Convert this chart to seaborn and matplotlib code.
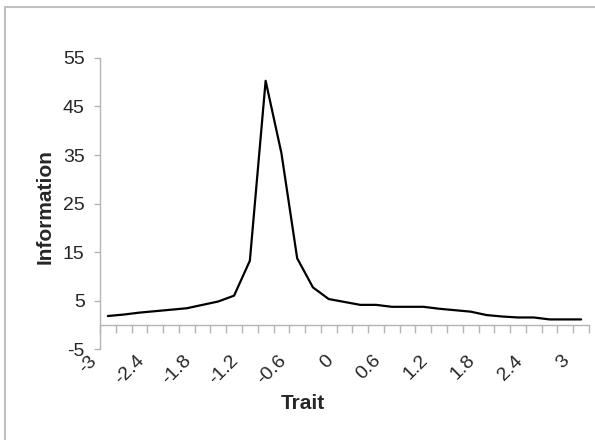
import matplotlib
matplotlib.use("Agg")
import matplotlib.pyplot as plt
import matplotlib.transforms as mtransforms
from matplotlib.patches import Rectangle
import pandas as pd
import seaborn as sns

# ---- data ----
trait = [-3.0, -2.8, -2.6, -2.4, -2.2, -2.0, -1.8, -1.6, -1.4, -1.2, -1.0,
         -0.8, -0.6, -0.4, -0.2, 0.0, 0.2, 0.4, 0.6, 0.8, 1.0, 1.2, 1.4,
         1.6, 1.8, 2.0, 2.2, 2.4, 2.6, 2.8, 3.0]
information = [1.8, 2.1, 2.5, 2.8, 3.1, 3.4, 4.1, 4.8, 6.0, 13.2, 50.3,
               35.4, 13.7, 7.7, 5.3, 4.7, 4.1, 4.1, 3.7, 3.7, 3.7, 3.3, 3.0,
               2.7, 2.0, 1.7, 1.5, 1.5, 1.1, 1.1, 1.1]
x_tick_labels = ["-3", "-2.4", "-1.8", "-1.2", "-0.6", "0", "0.6", "1.2", "1.8", "2.4", "3"]
y_ticks = [-5, 5, 15, 25, 35, 45, 55]

sns.set_style("white")
plt.rcParams["font.family"] = ["Liberation Sans", "DejaVu Sans"]

df = pd.DataFrame({"pos": range(len(trait)), "Trait": trait, "Information": information})

fig = plt.figure(figsize=(5.95, 4.4), dpi=100)
W, H = 595, 440
ax = fig.add_axes([100 / W, 1 - 349 / H, 489 / W, 291 / H])

sns.lineplot(data=df, x="pos", y="Information", ax=ax, color="black", linewidth=1.6)

grey = "#b4b4b4"
ax.set_xlim(-0.5, len(trait) - 0.5)
ax.set_ylim(-5, 55)

for s in ["top", "right"]:
    ax.spines[s].set_visible(False)
ax.spines["left"].set_color(grey)
ax.spines["left"].set_linewidth(1.0)
ax.spines["bottom"].set_position(("data", 0))
ax.spines["bottom"].set_color(grey)
ax.spines["bottom"].set_linewidth(1.0)

ax.set_yticks(y_ticks)
ax.set_yticklabels([str(v) for v in y_ticks])
ax.tick_params(axis="y", direction="out", length=4, width=1, color=grey,
               labelsize=14, pad=7, left=True)

# x: tick marks at category boundaries, labels every 3rd category
ax.set_xticks([i - 0.5 for i in range(len(trait) + 1)], minor=True)
lab_pos = list(range(0, len(trait), 3))
ax.set_xticks(lab_pos)
ax.set_xticklabels(x_tick_labels, rotation=45, ha="right", va="center",
                   rotation_mode="anchor")
ax.tick_params(axis="x", which="minor", direction="out", length=6, width=1,
               color=grey, bottom=True)
ax.tick_params(axis="x", which="major", length=0, labelsize=14, pad=24, bottom=True)
offset = mtransforms.ScaledTranslation(-10 / 72, 0, fig.dpi_scale_trans)
for lbl in ax.get_xticklabels():
    lbl.set_transform(lbl.get_transform() + offset)

ax.set_xlabel("Trait", fontsize=15, fontweight="bold")
ax.set_ylabel("Information", fontsize=15, fontweight="bold")
ax.xaxis.set_label_coords(0.415, -0.155)
ax.yaxis.set_label_coords(-0.092, 0.491)

# outer chart border
fig.patches.append(Rectangle((5 / W, -0.2), 1.2, 1.2 - 7 / H, transform=fig.transFigure,
                             fill=False, edgecolor="#c0c0c0", linewidth=1.5))

fig.savefig("out.png", dpi=100)
